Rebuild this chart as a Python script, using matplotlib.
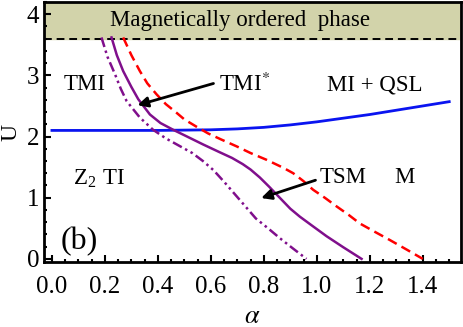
import matplotlib.pyplot as plt
import numpy as np
from matplotlib.ticker import MultipleLocator

plt.rcParams['font.family'] = ['Liberation Serif', 'DejaVu Serif']
plt.rcParams['mathtext.fontset'] = 'stix'

# === DATA ===
# blue solid line: Z2 TI / TMI boundary
blue_x = [0.0, 0.2, 0.4, 0.5, 0.6, 0.7, 0.8, 0.9, 1.0, 1.1, 1.2, 1.3, 1.4, 1.5]
blue_y = [2.10, 2.10, 2.10, 2.105, 2.11, 2.125, 2.15, 2.19, 2.24, 2.30, 2.36, 2.43, 2.50, 2.57]

# red dashed line
red_x = [0.269, 0.30, 0.332, 0.36, 0.395, 0.43, 0.47, 0.50, 0.546, 0.59, 0.64, 0.697,
         0.75, 0.81, 0.873, 0.911, 0.95, 0.986, 1.03, 1.074, 1.12, 1.162, 1.22, 1.275, 1.34, 1.40]
red_y = [3.62, 3.33, 3.07, 2.87, 2.69, 2.53, 2.39, 2.28, 2.16, 2.05, 1.95, 1.84,
         1.73, 1.62, 1.49, 1.40, 1.27, 1.13, 1.00, 0.86, 0.72, 0.58, 0.44, 0.31, 0.15, 0.0]

# purple solid line
pur_x = [0.225, 0.245, 0.269, 0.30, 0.326, 0.37, 0.41, 0.458, 0.51, 0.571, 0.63, 0.68,
         0.72, 0.75, 0.785, 0.82, 0.86, 0.90, 0.936, 0.98, 1.037, 1.10, 1.169]
pur_y = [3.62, 3.33, 3.07, 2.81, 2.61, 2.36, 2.22, 2.11, 2.00, 1.87, 1.75, 1.65,
         1.55, 1.46, 1.33, 1.18, 1.00, 0.82, 0.69, 0.55, 0.37, 0.19, 0.0]

# purple dash-dot line
dd_x = [0.187, 0.21, 0.238, 0.26, 0.282, 0.332, 0.382, 0.43, 0.48, 0.53, 0.57,
        0.61, 0.65, 0.69, 0.73, 0.77, 0.816, 0.86, 0.91, 0.961]
dd_y = [3.62, 3.30, 3.02, 2.78, 2.58, 2.31, 2.11, 1.97, 1.85, 1.73, 1.60,
        1.45, 1.26, 1.06, 0.86, 0.66, 0.50, 0.34, 0.17, 0.0]

mag_y = 3.6
x_lo, x_hi = -0.03, 1.545
y_lo, y_hi = -0.05, 4.2

# TMI* and TSM arrows: (tail, head)
arrow_tmi = ((0.62, 2.88), (0.313, 2.50))
arrow_tsm = ((1.005, 1.30), (0.78, 0.98))

fig = plt.figure(figsize=(4.63, 3.27), dpi=100)
ax = fig.add_axes([0.095, 0.199, 0.901, 0.795])

ax.fill_between([x_lo, x_hi], mag_y, y_hi, color='#d2d3aa', zorder=0)
ax.axhline(mag_y, color='black', linestyle=(0, (4, 2.5)), lw=1.4)

ax.plot(blue_x, blue_y, color='#0a14f0', lw=2)
ax.plot(red_x, red_y, color='red', lw=1.8, linestyle=(0, (4, 2.2)))
ax.plot(pur_x, pur_y, color='#800f8c', lw=1.8)
ax.plot(dd_x, dd_y, color='#800f8c', lw=1.8, linestyle=(0, (4, 1.5, 1, 1.5, 1, 1.5)))

fs = 16.5
ax.text(0.71, 3.9, 'Magnetically ordered  phase', fontsize=16.5, ha='center', va='center')
ax.text(0.125, 2.85, 'TMI', fontsize=fs, ha='center', va='center')
ax.text(0.63, 2.85, 'TMI$^{*}$', fontsize=fs, ha='left', va='center')
ax.text(1.22, 2.85, 'MI + QSL', fontsize=fs, ha='center', va='center')
ax.text(0.177, 1.33, r'Z$_{\mathregular{2}}$ TI', fontsize=fs, ha='center', va='center')
ax.text(1.01, 1.33, 'TSM', fontsize=fs, ha='left', va='center')
ax.text(1.33, 1.33, 'M', fontsize=fs, ha='center', va='center')
ax.text(0.105, 0.28, '(b)', fontsize=23, ha='center', va='center')

arrow = dict(arrowstyle='-|>', color='black', lw=2, mutation_scale=15)
for tail, head in (arrow_tmi, arrow_tsm):
    ax.annotate('', xy=head, xytext=tail, arrowprops=arrow)

ax.set_xlim(x_lo, x_hi)
ax.set_ylim(y_lo, y_hi)
ax.set_xticks([0.0, 0.2, 0.4, 0.6, 0.8, 1.0, 1.2, 1.4])
ax.set_xticklabels(['0.0', '0.2', '0.4', '0.6', '0.8', '1.0', '1.2', '1.4'])
ax.set_yticks([0, 1, 2, 3, 4])
ax.xaxis.set_minor_locator(MultipleLocator(0.05))
ax.yaxis.set_minor_locator(MultipleLocator(0.2))
ax.tick_params(which='both', direction='in', labelsize=18, width=1.5)
ax.tick_params(axis='x', pad=10)
ax.tick_params(which='major', length=5)
ax.tick_params(which='minor', length=2.5)
for s in ax.spines.values():
    s.set_linewidth(2)

ax.set_xlabel(r'$\alpha$', fontsize=19)
ax.xaxis.set_label_coords(0.5, -0.17)
ax.set_ylabel('U', fontsize=17)
ax.yaxis.set_label_coords(-0.055, 0.5)

fig.savefig('out.png', dpi=100)
